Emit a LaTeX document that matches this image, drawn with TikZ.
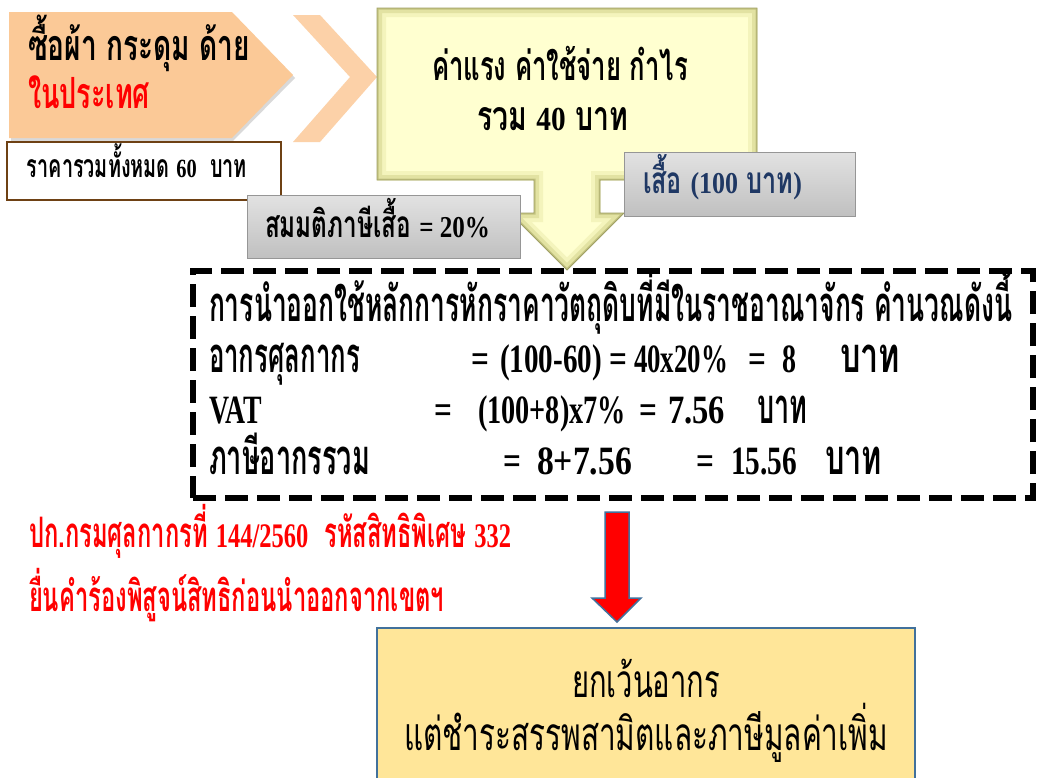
\documentclass[tikz,border=0pt]{standalone}
\usepackage{fontspec}
\usepackage{graphicx}
\newfontfamily\thf[Script=Thai,FakeStretch=0.62]{Loma}
\newfontfamily\latf[Scale=0.82,FakeStretch=0.78]{Liberation Serif}
\newcommand{\lx}[1]{{\latf #1}}
\newcommand{\fBig}{\fontsize{49}{52}\selectfont\bfseries\thf}
\newcommand{\fOr}{\fontsize{43}{46}\selectfont\bfseries\thf}
\newcommand{\fYe}{\fontsize{41}{44}\selectfont\bfseries\thf}
\newcommand{\fGr}{\fontsize{37}{40}\selectfont\bfseries\thf}
\newcommand{\fSm}{\fontsize{32}{34}\selectfont\bfseries\thf}
\newcommand{\fRed}{\fontsize{42}{44}\selectfont\bfseries\thf}
\newcommand{\fReg}{\fontsize{46}{48}\selectfont\thf}
\newcommand{\tx}[6][black]{\node[anchor=base west, text=#1] (#2) at (#3,#4) {\resizebox{#5pt}{\height}{#6}};}
\newcommand{\tn}[5][black]{\node[anchor=base west, text=#1] (#2) at (#3,#4) {#5};}
\definecolor{orangeA}{RGB}{251,201,151}
\definecolor{orangeB}{RGB}{252,209,168}
\definecolor{yelIn}{RGB}{255,255,208}
\definecolor{yelEa}{RGB}{244,244,188}
\definecolor{yelEb}{RGB}{226,226,162}
\definecolor{yelEc}{RGB}{195,195,128}
\definecolor{yelLine}{RGB}{160,160,100}
\definecolor{greyTop}{RGB}{226,226,226}
\definecolor{greyBot}{RGB}{192,192,192}
\definecolor{greyLine}{RGB}{150,150,150}
\definecolor{brownB}{RGB}{110,65,20}
\definecolor{navyT}{RGB}{31,56,100}
\definecolor{steel}{RGB}{65,113,156}
\definecolor{boxY}{RGB}{255,230,153}
\definecolor{redA}{RGB}{255,0,0}
\tikzset{
  greybox/.style={draw=greyLine, line width=0.8pt, top color=greyTop, bottom color=greyBot, anchor=north west},
  dashbox/.style={draw=black, line width=6pt, dash pattern=on 23pt off 9pt},
}
\def\yshape{(377,8) -- (757,8) -- (757,180) -- (600,180) -- (600,213) -- (624,213) -- (567,270) -- (510,213) -- (534,213) -- (534,180) -- (377,180) -- cycle}
\begin{document}
\begin{tikzpicture}[x=1pt,y=-1pt, every node/.style={inner sep=0pt, outer sep=0pt}]
\useasboundingbox (0,0) rectangle (1040,777);
\clip (0,0) rectangle (1040,777);
\fill[white] (0,0) rectangle (1040,777);
% orange pentagon with shadow
\fill[black, opacity=0.15] (11,16) -- (233,16) -- (295,78) -- (233,141) -- (11,141) -- cycle;
\fill[orangeA] (9,12) -- (232,12) -- (293,75) -- (232,138) -- (9,138) -- cycle;
% chevron
\fill[orangeB] (293,15) -- (320,15) -- (377,77) -- (320,142) -- (293,142) -- (350,77) -- cycle;
% price box
\node[draw=brownB, line width=1.5pt, fill=white, minimum width=274pt, minimum height=58pt, anchor=north west] (pricebox) at (7,142) {};
% yellow callout arrow
\begin{scope}
\clip \yshape;
\fill[yelIn] \yshape;
\draw[line width=18pt, yelEa] \yshape;
\draw[line width=10pt, yelEb] \yshape;
\draw[line width=3pt, yelEc] \yshape;
\end{scope}
\draw[yelLine, line width=0.8pt] \yshape;
% grey boxes
\node[greybox, minimum width=231pt, minimum height=64pt] (shirtbox) at (624,152) {};
\node[greybox, minimum width=273pt, minimum height=63pt] (taxbox) at (247,195) {};
% dashed box
\node[dashbox, minimum width=840pt, minimum height=227pt, anchor=north west] (calcbox) at (193,271) {};
% red arrow
\draw[steel, line width=1.5pt, fill=redA, line join=miter] (605,512) -- (629,512) -- (629,598) -- (641,598) -- (617,622) -- (592,598) -- (605,598) -- cycle;
% bottom box
\node[draw=steel, line width=2pt, fill=boxY, minimum width=538pt, minimum height=170pt, anchor=north west] (exempt) at (377,628) {};
% texts
\tx{t1}{28}{60}{222}{\fOr ซื้อผ้า กระดุม ด้าย}
\tx[redA]{t2}{28}{108}{122}{\fOr ในประเทศ}
\tx{t3}{27}{177}{220}{\fSm ราคารวมทั้งหมด \lx{60}\ \ บาท}
\tx{t4}{432}{80}{256}{\fYe ค่าแรง ค่าใช้จ่าย กำไร}
\tx{t5}{477}{130}{151}{\fYe รวม \lx{40} บาท}
\tx[navyT]{t6}{643}{193}{159}{\fGr เสื้อ \lx{(100} บาท\lx{)}}
\tx{t7}{265}{237}{225}{\fGr สมมติภาษีเสื้อ \lx{= 20\%}}
\tx{t8}{209}{321}{803}{\fBig การนำออกใช้หลักการหักราคาวัตถุดิบที่มีในราชอาณาจักร คำนวณดังนี้}
% line 2
\tx{t9}{209}{372}{151}{\fBig อากรศุลกากร}
\tn{t10}{471}{372}{\fBig\lx{=}}
\tx{t11}{500}{372}{102}{\fBig\lx{(100-60)}}
\tn{t12}{609}{372}{\fBig\lx{=}}
\tx{t13}{634}{372}{94}{\fBig\lx{40x20\%}}
\tn{t14}{748}{372}{\fBig\lx{=}}
\tx{t15}{782}{372}{14}{\fBig\lx{8}}
\tx{t16}{840}{372}{60}{\fBig บาท}
% line 3
\tx{t17}{209}{423}{53}{\fBig\lx{VAT}}
\tn{t18}{434}{423}{\fBig\lx{=}}
\tx{t19}{478}{423}{148}{\fBig\lx{(100+8)x7\%}}
\tn{t20}{639}{423}{\fBig\lx{=}}
\tx{t21}{668}{423}{57}{\fBig\lx{7.56}}
\tx{t22}{757}{423}{50}{\fBig บาท}
% line 4
\tx{t23}{209}{474}{161}{\fBig ภาษีอากรรวม}
\tn{t24}{503}{474}{\fBig\lx{=}}
\tx{t25}{537}{474}{95}{\fBig\lx{8+7.56}}
\tn{t26}{696}{474}{\fBig\lx{=}}
\tx{t27}{731}{474}{66}{\fBig\lx{15.56}}
\tx{t28}{825}{474}{57}{\fBig บาท}
% red notes
\tx[redA]{t29}{29}{547}{482}{\fRed ปก.กรมศุลกากรที่ \lx{144/2560}\ \ รหัสสิทธิพิเศษ \lx{332}}
\tx[redA]{t30}{29}{611}{415}{\fRed ยื่นคำร้องพิสูจน์สิทธิก่อนนำออกจากเขตฯ}
% bottom box texts
\tx{t31}{572}{697}{148}{\fReg ยกเว้นอากร}
\tx{t32}{404}{750}{484}{\fReg แต่ชำระสรรพสามิตและภาษีมูลค่าเพิ่ม}
\end{tikzpicture}
\end{document}
